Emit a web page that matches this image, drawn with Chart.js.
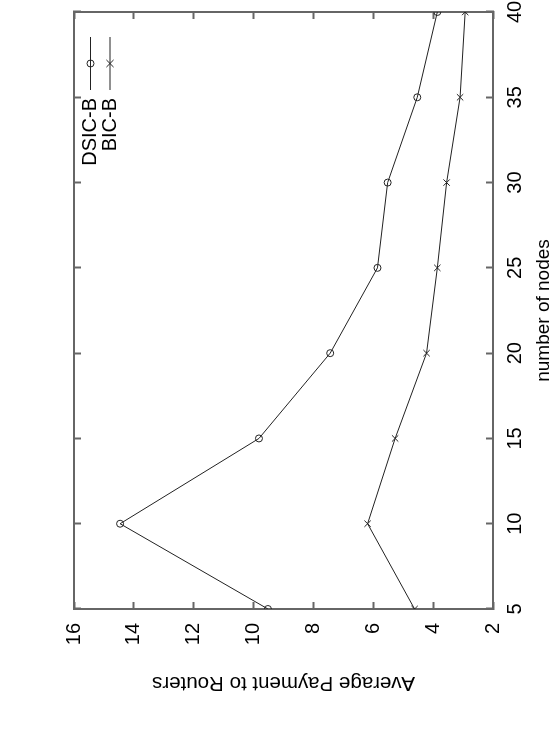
<!DOCTYPE html>
<html>
<head>
<meta charset="utf-8">
<script src="https://cdn.jsdelivr.net/npm/chart.js@4/dist/chart.umd.min.js"></script>
<style>
  html, body { margin: 0; padding: 0; background: #fff; overflow: hidden; }
  #wrap {
    position: absolute; left: 0; top: 0;
    width: 749px; height: 552px;
    transform-origin: 0 0;
    transform: translate(0, 749px) rotate(-90deg);
  }
</style>
</head>
<body>
<div id="wrap"><canvas id="chart" width="749" height="552"></canvas></div>
<script>
// data
const nodes = [5, 10, 15, 20, 25, 30, 35, 40];
const dsicB = [9.52, 14.46, 9.82, 7.44, 5.86, 5.52, 4.53, 3.86];
const bicB  = [4.62, 6.19, 5.27, 4.22, 3.86, 3.55, 3.1, 2.93];
const seriesNames = ['DSIC-B', 'BIC-B'];

const FONT = 'Liberation Sans, Arial, Helvetica, sans-serif';
const AXIS = '#666';

// gnuplot style key: text right-aligned, sample line + marker to its right
const gnuKey = {
  id: 'gnuKey',
  afterDraw(chart) {
    const { ctx, chartArea: a } = chart;
    const x0 = a.right - 78, x1 = a.right - 25, xt = a.right - 86;
    ctx.save();
    ctx.font = '20px ' + FONT;
    ctx.textAlign = 'right';
    ctx.textBaseline = 'middle';
    chart.data.datasets.forEach((ds, i) => {
      const y = a.top + 16.5 + i * 19.5;
      ctx.fillStyle = '#000';
      ctx.fillText(ds.label, xt, y);
      ctx.strokeStyle = ds.borderColor;
      ctx.lineWidth = 1;
      ctx.beginPath(); ctx.moveTo(x0, y); ctx.lineTo(x1, y); ctx.stroke();
      const cx = (x0 + x1) / 2, r = ds.pointRadius;
      ctx.beginPath();
      if (ds.pointStyle === 'circle') {
        ctx.arc(cx, y, r, 0, Math.PI * 2);
      } else {
        ctx.moveTo(cx - r * 0.8, y - r * 0.8); ctx.lineTo(cx + r * 0.8, y + r * 0.8);
        ctx.moveTo(cx - r * 0.8, y + r * 0.8); ctx.lineTo(cx + r * 0.8, y - r * 0.8);
      }
      ctx.stroke();
    });
    ctx.restore();
  }
};

// fixed axis box, no extra room for end labels
function fit(size) {
  return function (s) {
    if (s.isHorizontal()) s.height = size; else s.width = size;
    s.paddingLeft = s.paddingRight = s.paddingTop = s.paddingBottom = 0;
  };
}

function axis(pos, min, max, step, extra) {
  return Object.assign({
    type: 'linear', position: pos, min, max,
    ticks: { stepSize: step, color: '#000', font: { family: FONT, size: 20 }, maxRotation: 0, minRotation: 0, autoSkip: false },
    grid: { drawOnChartArea: false, drawTicks: true, tickLength: -7, tickColor: AXIS, tickWidth: 2 },
    border: { display: true, color: AXIS, width: 2 }
  }, extra);
}

const mk = (label, data, style, r) => ({
  label,
  data: nodes.map((n, i) => ({ x: n, y: data[i] })),
  borderColor: '#222', borderWidth: 1,
  pointStyle: style, pointRadius: r, pointBorderWidth: 1,
  pointBackgroundColor: 'rgba(0,0,0,0)', pointBorderColor: '#222',
  tension: 0, fill: false
});

new Chart(document.getElementById('chart'), {
  type: 'line',
  data: {
    datasets: [
      mk(seriesNames[0], dsicB, 'circle', 3.5),
      mk(seriesNames[1], bicB, 'crossRot', 4.5)
    ]
  },
  options: {
    responsive: false,
    devicePixelRatio: 1,
    animation: false,
    layout: { padding: 0 },
    plugins: { legend: { display: false }, tooltip: { enabled: false } },
    scales: {
      x: axis('bottom', 5, 40, 5, {
        afterFit: fit(59),
        title: { display: true, text: 'number of nodes', color: '#000', font: { family: FONT, size: 19 }, padding: { top: 0, bottom: -3 } }
      }),
      y: axis('left', 2, 16, 2, {
        afterFit: fit(140),
        title: { display: true, text: 'Average Payment to Routers', color: '#000', font: { family: FONT, size: 20.5 }, padding: { top: 54, bottom: 0 } }
      }),
      x2: axis('top', 5, 40, 5, { afterFit: fit(74) }),
      y2: axis('right', 2, 16, 2, { afterFit: fit(12) })
    }
  },
  plugins: [gnuKey]
});
// label padding per axis
const c = Chart.getChart('chart');
c.options.scales.x.ticks.padding = 17;
c.options.scales.y.ticks.padding = 21;
c.options.scales.x2.ticks.display = false;
c.options.scales.y2.ticks.display = false;
c.update();
</script>
</body>
</html>
